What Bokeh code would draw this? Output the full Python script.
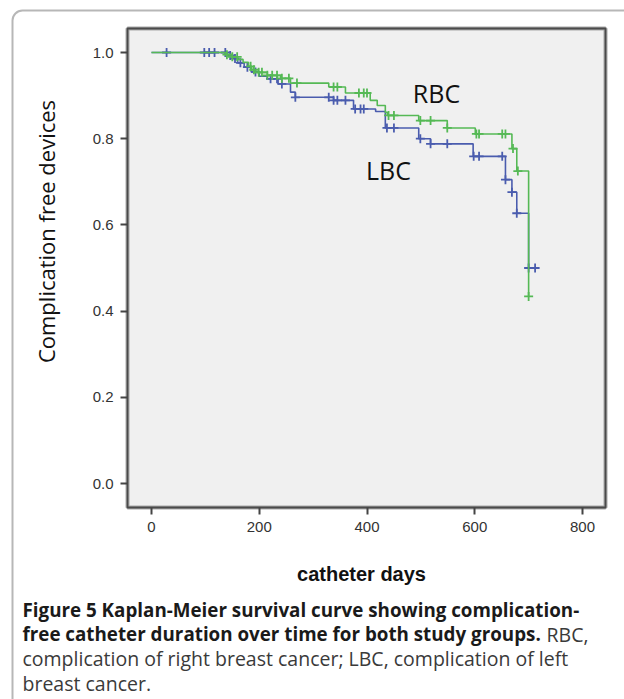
import numpy as np
from bokeh.plotting import figure
from bokeh.models import Label, BoxAnnotation, FixedTicker, Range1d, LinearAxis
from bokeh.embed import file_html
from bokeh.resources import INLINE

# ---- data ----
rbc_event_days = [0, 137, 150, 160, 170, 180, 186, 192, 215, 240, 258, 329, 360,
                  406, 419, 434, 438, 496, 549, 601, 669, 678, 700]
rbc_surv = [1.0, 0.995, 0.990, 0.984, 0.977, 0.968, 0.960, 0.954, 0.947, 0.940, 0.929,
            0.920, 0.906, 0.889, 0.877, 0.861, 0.854, 0.842, 0.825, 0.811, 0.777, 0.725, 0.434]
rbc_censor_days = [140, 150, 159, 184, 190, 199, 205, 215, 224, 233, 242, 255, 270, 338,
                   345, 385, 394, 400, 440, 450, 499, 518, 549, 603, 608, 651, 657, 671, 680, 700]

lbc_event_days = [0, 140, 150, 160, 172, 185, 200, 215, 235, 258, 267, 338, 375, 416,
                  434, 496, 518, 597, 657, 669, 678, 700, 712]
lbc_surv = [1.0, 0.993, 0.986, 0.976, 0.966, 0.955, 0.945, 0.939, 0.927, 0.908, 0.896,
            0.889, 0.869, 0.863, 0.825, 0.800, 0.788, 0.759, 0.705, 0.676, 0.627, 0.500, 0.500]
lbc_censor_days = [28, 98, 107, 117, 137, 146, 155, 165, 178, 193, 221, 233, 242, 267,
                   329, 338, 345, 360, 378, 388, 394, 437, 450, 499, 518, 549, 598, 608,
                   651, 657, 669, 678, 700, 712]

x_ticks = [0, 200, 400, 600, 800]
y_ticks = [0.0, 0.2, 0.4, 0.6, 0.8, 1.0]

GREEN = "#55b955"
BLUE = "#4a5cae"

def surv_at(days, ev_days, surv):
    idx = np.searchsorted(np.array(ev_days), np.array(days), side="right") - 1
    return list(np.array(surv)[idx])

# ---- layout: canvas in page pixels, chart on extra ranges ----
W, H = 624, 699
xa, xb = -44.5, 842.7          # plot area limits (days)
ya, yb = -0.0557, 1.0557       # plot area limits (survival)
PX0, PX800, PY1, PY0 = 151.0, 582.0, 52.0, 483.0
kx = (PX800 - PX0) / 800.0
ky = (PY0 - PY1) / 1.0
days_range = Range1d(-PX0 / kx, (W - PX0) / kx)
surv_range = Range1d(1.0 - (H - PY1) / ky, 1.0 + PY1 / ky)

p = figure(width=W, height=H, output_backend="svg", toolbar_location=None,
           x_range=Range1d(0, W), y_range=Range1d(H, 0),
           x_axis_type=None, y_axis_type=None, min_border=0)
p.extra_x_ranges = {"days": days_range}
p.extra_y_ranges = {"surv": surv_range}
p.background_fill_color = "white"
p.border_fill_color = "white"
p.outline_line_color = None
p.grid.visible = False

# plot area
p.quad(left=[xa], right=[xb], bottom=[ya], top=[yb], x_range_name="days", y_range_name="surv",
       fill_color="#f0f0f0", line_color="#a8a8a8", line_width=4)
p.quad(left=[xa], right=[xb], bottom=[ya], top=[yb], x_range_name="days", y_range_name="surv",
       fill_alpha=0, line_color="#4a4a4a", line_width=1.8)

# axes
xaxis = LinearAxis(x_range_name="days", y_range_name="surv", fixed_location=ya,
                   ticker=FixedTicker(ticks=x_ticks))
yaxis = LinearAxis(x_range_name="days", y_range_name="surv", fixed_location=xa,
                   ticker=FixedTicker(ticks=y_ticks))
yaxis.major_label_overrides = {v: f"{v:.1f}" for v in y_ticks}
for ax in (xaxis, yaxis):
    ax.axis_line_color = None
    ax.major_tick_in = 0
    ax.major_tick_out = 7
    ax.major_tick_line_color = "#444444"
    ax.major_tick_line_width = 2
    ax.minor_tick_line_color = None
    ax.major_label_text_font = "Liberation Sans"
    ax.major_label_text_font_size = "15px"
    ax.major_label_text_color = "#333333"
    ax.major_label_standoff = 7
p.add_layout(xaxis, "below")
p.add_layout(yaxis, "left")

# curves
p.step(lbc_event_days, lbc_surv, mode="after", line_color=BLUE, line_width=1.6,
       x_range_name="days", y_range_name="surv")
p.scatter(lbc_censor_days, surv_at(lbc_censor_days, lbc_event_days, lbc_surv),
          marker="cross", size=9, line_color=BLUE, line_width=1.8,
          x_range_name="days", y_range_name="surv")
p.step(rbc_event_days, rbc_surv, mode="after", line_color=GREEN, line_width=1.6,
       x_range_name="days", y_range_name="surv")
p.scatter(rbc_censor_days, surv_at(rbc_censor_days, rbc_event_days, rbc_surv),
          marker="cross", size=9, line_color=GREEN, line_width=1.8,
          x_range_name="days", y_range_name="surv")

# group labels
for t, X, Y in (("RBC", 436, 92), ("LBC", 388, 169)):
    p.add_layout(Label(x=X, y=Y, text=t, text_font="Open Sans", text_font_size="25px",
                       text_color="#111111", text_align="center", text_baseline="middle"))

# axis titles
p.add_layout(Label(x=45, y=231, text="Complication free devices", angle=np.pi / 2,
                   text_font="Open Sans", text_font_size="22px", text_color="#111111",
                   text_align="center", text_baseline="middle"))
p.add_layout(Label(x=361, y=573, text="catheter days", text_font="Liberation Sans",
                   text_font_style="bold", text_font_size="20px", text_color="#111111",
                   text_align="center", text_baseline="alphabetic"))

# caption
def cap(X, Y, t, bold):
    p.add_layout(Label(x=X, y=Y, text=t, text_font="Open Sans",
                       text_font_size="18.8px" if bold else "19.5px",
                       text_font_style="bold" if bold else "normal",
                       text_color="#1a1a1a" if bold else "#3a3a3a",
                       text_align="left", text_baseline="alphabetic"))
cap(22, 609, "Figure 5 Kaplan-Meier survival curve showing complication-", True)
cap(22, 633.5, "free catheter duration over time for both study groups.", True)
cap(546, 633.5, "RBC,", False)
cap(22, 658, "complication of right breast cancer; LBC, complication of left", False)
cap(22, 682.5, "breast cancer.", False)

# outer rounded border
p.add_layout(BoxAnnotation(left=12, right=700, top=10, bottom=760,
                           fill_alpha=0, line_color="#111111", line_width=2,
                           border_radius=10))

open("out.html", "w").write(file_html(p, INLINE))
